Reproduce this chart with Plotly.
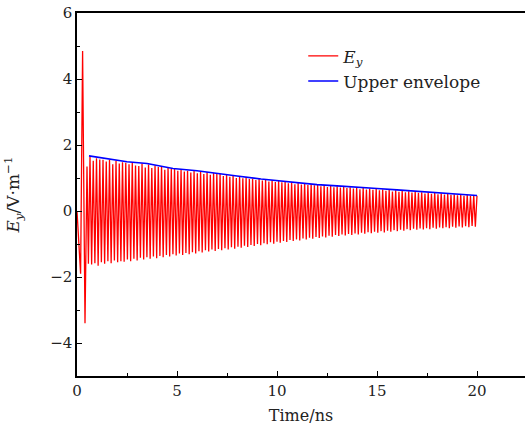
import numpy as np
import plotly.graph_objects as go

# --- data ---
lead_t = [0.0, 0.18, 0.28, 0.40, 0.50, 0.57]
lead_v = [0.0, -1.90, 4.85, -3.40, 1.35, -1.60]

first_peak_t = 0.65
period = 0.1626  # ns per oscillation

peaks = [
    1.65, 1.52, 1.60, 1.56, 1.55, 1.50, 1.55, 1.42, 1.52, 1.44,
    1.48, 1.46, 1.42, 1.47, 1.38, 1.36, 1.44, 1.32, 1.41, 1.30,
    1.38, 1.33, 1.36, 1.25, 1.32, 1.27, 1.28, 1.22, 1.25, 1.20,
    1.22, 1.17, 1.21, 1.14, 1.20, 1.12, 1.18, 1.10, 1.15, 1.12,
    1.12, 1.06, 1.11, 1.04, 1.08, 1.00, 1.06, 0.99, 1.02, 0.97,
    0.98, 0.94, 0.97, 0.92, 0.95, 0.89, 0.93, 0.88, 0.91, 0.87,
    0.88, 0.84, 0.87, 0.81, 0.85, 0.80, 0.83, 0.79, 0.81, 0.78,
    0.79, 0.75, 0.78, 0.73, 0.77, 0.72, 0.75, 0.71, 0.74, 0.70,
    0.72, 0.68, 0.71, 0.66, 0.70, 0.65, 0.68, 0.64, 0.67, 0.63,
    0.65, 0.61, 0.64, 0.59, 0.63, 0.58, 0.61, 0.57, 0.60, 0.56,
    0.58, 0.55, 0.57, 0.53, 0.56, 0.52, 0.55, 0.51, 0.54, 0.50,
    0.52, 0.49, 0.51, 0.48, 0.50, 0.46, 0.49, 0.45, 0.48, 0.46,
]
troughs = [
    -1.62, -1.58, -1.66, -1.55, -1.60, -1.52, -1.58, -1.50, -1.55, -1.52,
    -1.54, -1.47, -1.52, -1.45, -1.50, -1.42, -1.47, -1.40, -1.45, -1.38,
    -1.43, -1.36, -1.40, -1.33, -1.38, -1.31, -1.35, -1.29, -1.33, -1.27,
    -1.31, -1.25, -1.29, -1.22, -1.26, -1.19, -1.23, -1.17, -1.21, -1.15,
    -1.19, -1.13, -1.17, -1.10, -1.14, -1.08, -1.11, -1.05, -1.09, -1.03,
    -1.06, -1.00, -1.04, -0.98, -1.01, -0.95, -0.99, -0.93, -0.96, -0.91,
    -0.94, -0.88, -0.91, -0.86, -0.89, -0.83, -0.86, -0.81, -0.84, -0.79,
    -0.82, -0.77, -0.80, -0.75, -0.78, -0.73, -0.76, -0.71, -0.74, -0.70,
    -0.73, -0.68, -0.71, -0.66, -0.69, -0.64, -0.67, -0.63, -0.66, -0.61,
    -0.65, -0.60, -0.63, -0.58, -0.61, -0.57, -0.60, -0.55, -0.58, -0.54,
    -0.57, -0.53, -0.56, -0.52, -0.55, -0.51, -0.54, -0.50, -0.52, -0.49,
    -0.52, -0.48, -0.51, -0.47, -0.50, -0.46, -0.49, -0.45, -0.48,
]

env_t = [0.6, 1.5, 2.5, 3.5, 4.2, 4.8, 6.0, 7.0, 8.0, 9.2, 10.0, 11.2,
         12.0, 13.0, 14.0, 15.0, 16.0, 17.0, 18.0, 19.0, 20.0]
env_v = [1.67, 1.58, 1.49, 1.44, 1.36, 1.29, 1.22, 1.15, 1.06, 0.97, 0.92, 0.84,
         0.80, 0.76, 0.71, 0.68, 0.64, 0.60, 0.56, 0.51, 0.47]

# --- assemble the signal polyline: peak, trough, peak, ... ---
t_sig = list(lead_t)
v_sig = list(lead_v)
for k, p in enumerate(peaks):
    tp = first_peak_t + k * period
    t_sig.append(tp)
    v_sig.append(p)
    if k < len(troughs):
        t_sig.append(tp + period / 2)
        v_sig.append(troughs[k])

serif = "DejaVu Serif"
txt = "#222"

fig = go.Figure()
fig.add_trace(go.Scatter(
    x=t_sig, y=v_sig, mode="lines",
    line=dict(color="#ff0000", width=1.3),
    name="<i>E</i><sub><i>y</i></sub>",
))
fig.add_trace(go.Scatter(
    x=env_t, y=env_v, mode="lines",
    line=dict(color="#0000ff", width=1.6),
    name="Upper envelope",
))

axis_common = dict(
    showline=True, linecolor="black", linewidth=1.5,
    ticks="inside", ticklen=5, tickwidth=1.2, tickcolor="black",
    showgrid=False, zeroline=False, automargin=False,
    tickfont=dict(family=serif, size=15, color=txt),
)

fig.update_layout(
    width=525, height=429,
    margin=dict(l=77, r=0, t=13, b=53, autoexpand=False),
    plot_bgcolor="white", paper_bgcolor="white",
    font=dict(family=serif, size=16, color=txt),
    showlegend=True,
    legend=dict(
        x=0.505, y=0.93, xanchor="left", yanchor="top",
        bgcolor="rgba(0,0,0,0)", borderwidth=0,
        font=dict(family=serif, size=17, color=txt),
        tracegroupgap=0, itemwidth=30,
    ),
    xaxis=dict(
        range=[0, 22.4], dtick=5, tick0=0, mirror=True,
        minor=dict(dtick=2.5, ticks="inside", ticklen=3, tickcolor="black"),
        title=dict(text="Time/ns", font=dict(family=serif, size=16, color=txt), standoff=11),
        **axis_common,
    ),
    yaxis=dict(
        range=[-5, 6], dtick=2, tick0=0,
        minor=dict(dtick=1, ticks="inside", ticklen=3, tickcolor="black"),
        title=dict(text="<i>E</i><sub><i>y</i></sub>/V·m<sup>−1</sup>",
                   font=dict(family=serif, size=17, color=txt), standoff=26),
        **axis_common,
    ),
)

fig.write_html(
    "out.html",
    config={"displayModeBar": False},
    post_script="document.body.style.margin='0';document.body.style.overflow='hidden';",
)
